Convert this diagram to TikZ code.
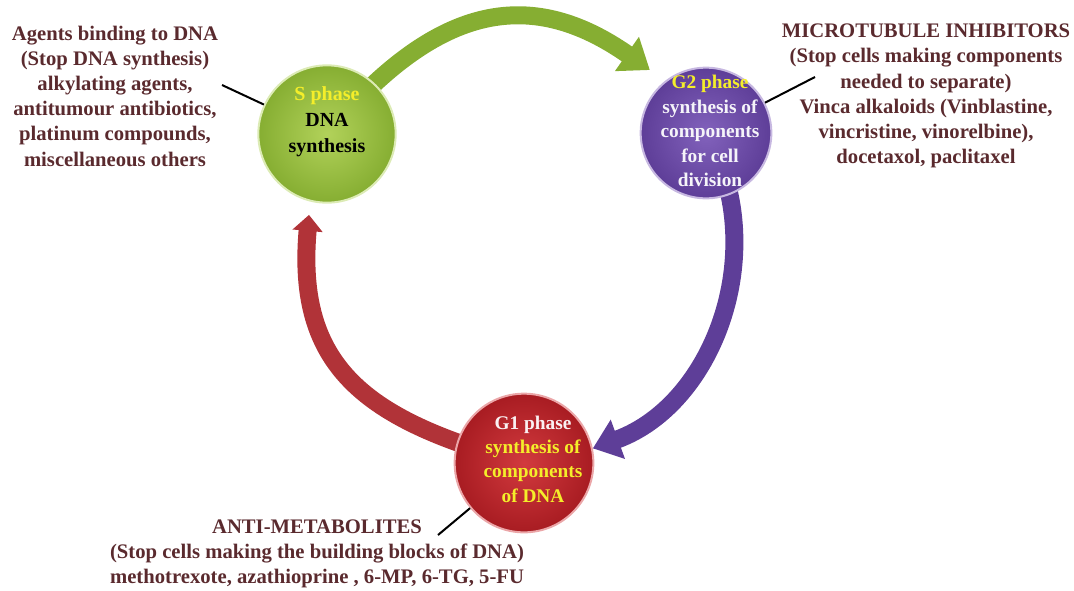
\documentclass[tikz,border=0pt]{standalone}
\usepackage{fontspec}
\setmainfont{Liberation Serif}
\usetikzlibrary{arrows.meta,backgrounds}

\definecolor{drugtext}{HTML}{5A2A2E}
\definecolor{sgreen}{HTML}{86AE32}
\definecolor{sgreenlight}{HTML}{B2D25A}
\definecolor{gpurple}{HTML}{5E3E98}
\definecolor{gpurplelight}{HTML}{8262BC}
\definecolor{gred}{HTML}{A81C22}
\definecolor{gredlight}{HTML}{D23A3E}
\definecolor{phaseyellow}{HTML}{F4EE2A}

\begin{document}
\begin{tikzpicture}[x=0.75pt, y=-0.75pt,
    phase/.style={circle, inner sep=0pt, draw=#1light!45!white, line width=1.5pt,
        shading=radial, inner color=#1light, outer color=#1},
    phasetext/.style={align=center, font=\bfseries\fontsize{14.5}{18.3}\selectfont},
    drugs/.style={align=center, text=drugtext, font=\bfseries\fontsize{15.5}{18.9}\selectfont},
    cycle/.style={line width=13.5pt, draw=#1}]
    \useasboundingbox (0,0) rectangle (1074,590);

    % Define the three phases
    \node[phase=sgreen, minimum size=103pt] (S) at (327,134) {};
    \node[phase=gpurple, minimum size=98pt] (G2) at (706,133) {};
    \node[phase=gred, minimum size=104pt] (G1) at (524,463) {};

    \node[phasetext, font=\bfseries\fontsize{15}{19.5}\selectfont] (Stext) at (327,122)
        {\textcolor{phaseyellow}{S phase}\\DNA\\synthesis};
    \node[phasetext, text=white!94!gpurple] (G2text) at (710,131)
        {\textcolor{phaseyellow}{G2 phase}\\synthesis of\\components\\for cell\\division};
    \node[phasetext, text=phaseyellow] (G1text) at (533,459)
        {\textcolor{white!94!gred}{G1 phase}\\synthesis of\\components\\of DNA};

    % Draw the cycle arrows behind the phases
    \begin{scope}[on background layer]
        \draw[cycle=sgreen, -{Triangle[width=30pt,length=21pt]}, shorten >=14pt, looseness=1.25]
            (S.center) to[out=50, in=145] (G2.128);
        \draw[cycle=gpurple, -{Triangle[width=30pt,length=20pt]}]
            (G2.center) to[out=-60, in=20] (G1.12);
        \draw[cycle=gred!90!white, -{Triangle[width=22pt,length=12pt]}, shorten >=10pt, looseness=1.25]
            (G1.center) to[out=165, in=-95] (S.-104);
    \end{scope}

    % Define the drug groups
    \node[drugs] (alkyl) at (115,96) {Agents binding to DNA\\(Stop DNA synthesis)\\alkylating agents,\\antitumour antibiotics,\\platinum compounds,\\miscellaneous others};
    \node[drugs] (mitotic) at (926,96) {MICROTUBULE INHIBITORS\\(Stop cells making components\\needed to separate)\\Vinca alkaloids (Vinblastine,\\vincristine, vinorelbine),\\docetaxol, paclitaxel};
    \node[drugs] (antimet) at (317,554) {ANTI-METABOLITES\\(Stop cells making the building blocks of DNA)\\methotrexote, azathioprine , 6-MP, 6-TG, 5-FU};

    % Draw pointers to the phases
    \coordinate (alkylptr) at (222,85);
    \coordinate (mitoticptr) at (815,77);
    \coordinate (antimetptr) at (438,535);
    \draw[line width=1.5pt] (alkylptr) -- (S);
    \draw[line width=1.5pt] (mitoticptr) -- (G2);
    \draw[line width=1.5pt] (antimetptr) -- (G1);

\end{tikzpicture}
\end{document}
